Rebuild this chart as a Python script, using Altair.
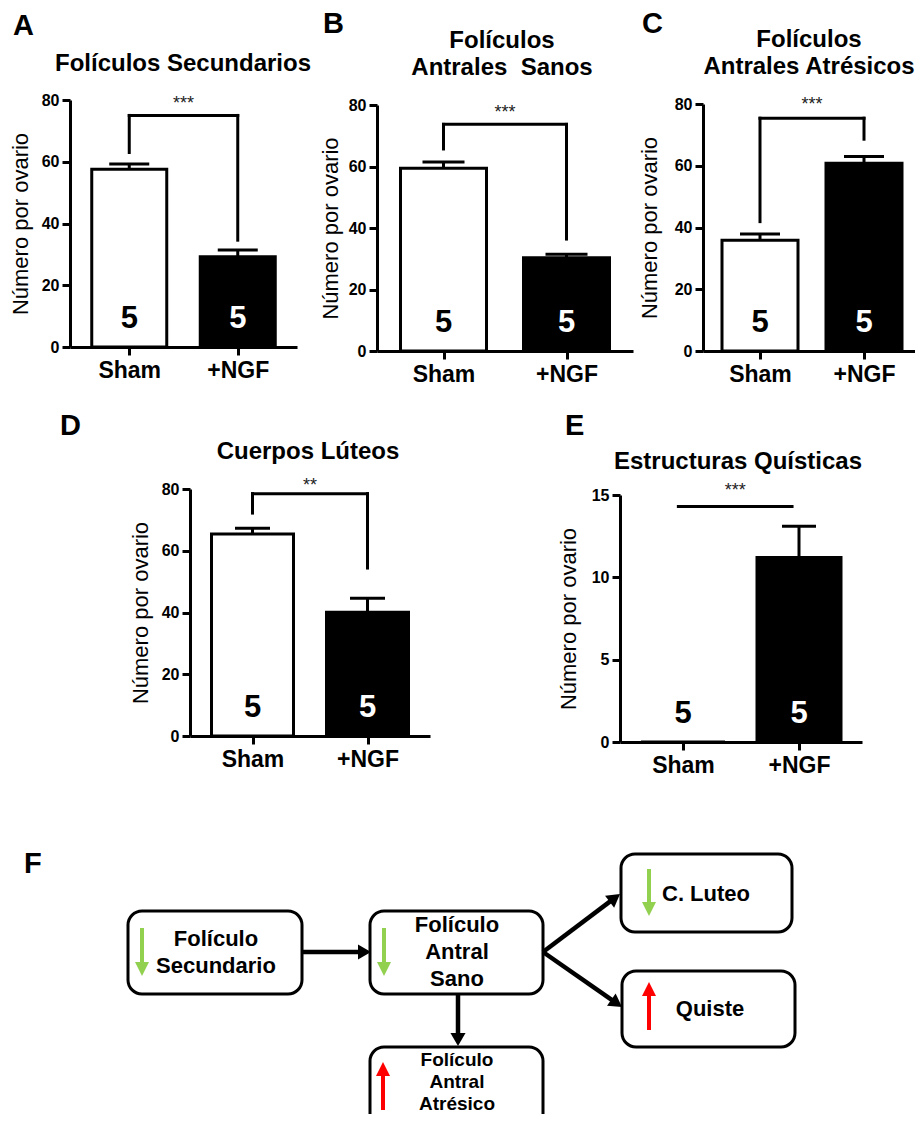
import math
import altair as alt
import pandas as pd

FONT = "Liberation Sans"
ORIGIN = 8            # page offset of the drawing area (body margin)
CANVAS_W, CANVAS_H = 907, 1106

# ---------------- data ----------------
groups = ["Sham", "+NGF"]
gpos = [0, 1]
n_per_group = ["5", "5"]

panel_letters = ["A", "B", "C", "D", "E"]
panel_titles = [
    ["Folículos Secundarios"],
    ["Folículos", "Antrales\u00a0 Sanos"],
    ["Folículos", "Antrales Atrésicos"],
    ["Cuerpos Lúteos"],
    ["Estructuras Quísticas"],
]
means = [[57.6, 29.2], [59.4, 30.3], [35.9, 60.8], [65.4, 40.1], [0.0, 11.2]]
uppers = [[59.3, 31.4], [61.5, 31.5], [37.9, 63.0], [67.3, 44.6], [0.0, 13.1]]
y_max = [80, 80, 80, 80, 15]
y_step = [20, 20, 20, 20, 5]
# significance bracket: top, left leg bottom, right leg bottom
br_top = [75.0, 73.7, 75.4, 78.5, 14.3]
br_left = [63.0, 65.7, 41.9, 72.2, None]
br_right = [34.6, 36.4, 68.6, 54.4, None]
br_x = [[0, 1], [0, 1], [0, 1], [0, 1], [-0.04, 0.94]]
stars = ["***", "***", "***", "**", "***"]
y_title = "Número por ovario"

# diagram (F)
box_x1 = [128, 370, 621, 622, 370]
box_x2 = [302, 543, 792, 795, 543]
box_y1 = [911, 911, 854, 971, 1047]
box_y2 = [994, 994, 932, 1047, 1140]
box_lines = ["Folículo", "Secundario", "Folículo", "Antral", "Sano", "C. Luteo", "Quiste",
             "Folículo", "Antral", "Atrésico"]
box_line_x = [216, 216, 457, 457, 457, 706, 710, 457, 457, 457]
box_line_y = [946, 973, 932, 959, 986, 901, 1016, 1066, 1088, 1110]
box_line_size = [22, 22, 22, 22, 22, 22, 22, 19, 19, 19]
flow_from = [(302, 952), (458, 994), (543, 952), (543, 952)]
flow_to = [(371, 952), (458, 1046), (620, 894), (622, 1007)]
trend_from = [(142, 928), (384, 928), (649, 869), (649, 1030), (383, 1110)]
trend_to = [(142, 976), (384, 976), (649, 916), (649, 982), (383, 1062)]
trend_col = ["#92D050", "#92D050", "#92D050", "#FF0000", "#FF0000"]


def px(v):
    return v - ORIGIN


def bar_panel(i, xl, xr, y0, ytop, barw, cap, tpad, title_x, title_y, letter_xy, star_dy):
    df = pd.DataFrame({"pos": gpos, "grp": groups, "mean": means[i], "upper": uppers[i],
                       "n": n_per_group, "zero": [0, 0]})
    xscale = alt.Scale(domain=[-0.5, 1.5], range=[px(xl), px(xr)], nice=False, zero=False)
    yscale = alt.Scale(domain=[0, y_max[i]], range=[px(y0), px(ytop)], nice=False, zero=True)
    label_expr = f"datum.value == 0 ? '{groups[0]}' : '{groups[1]}'"
    xaxis = alt.Axis(orient="bottom", values=gpos, labelExpr=label_expr, title=None, grid=False,
                     domainColor="black", domainWidth=3, tickColor="black", tickWidth=3,
                     tickSize=8, labelFont=FONT, labelFontSize=23, labelFontWeight="bold",
                     labelColor="black", labelPadding=4, offset=px(y0) - CANVAS_H,
                     labelFlush=False)
    yaxis = alt.Axis(orient="left", values=list(range(0, y_max[i] + 1, y_step[i])),
                     title=y_title, grid=False, offset=-px(xl),
                     domainColor="black", domainWidth=3, tickColor="black", tickWidth=3,
                     tickSize=8, labelFont=FONT, labelFontSize=16, labelFontWeight="bold",
                     labelColor="black", labelPadding=3, titleFont=FONT, titleFontSize=22,
                     titleFontWeight="normal", titleColor="black", titlePadding=tpad,
                     labelFlush=False)
    X = alt.X("pos:Q", scale=xscale, axis=xaxis)
    base = alt.Chart(df)
    is_ngf = alt.datum.pos == 1
    bars = base.mark_bar(orient="vertical", width=barw, stroke="black", strokeWidth=3).encode(
        x=X, y=alt.Y("mean:Q", scale=yscale, axis=yaxis),
        fill=alt.when(is_ngf).then(alt.value("black")).otherwise(alt.value("white")))
    err = base.mark_rule(color="black", strokeWidth=3).encode(
        x=X, y=alt.Y("mean:Q", scale=yscale, axis=yaxis), y2="upper:Q"
    ).transform_filter("datum.upper > datum.mean")
    caps = base.mark_tick(orient="horizontal", size=cap, thickness=3, color="black", opacity=1).encode(
        x=X, y=alt.Y("upper:Q", scale=yscale, axis=yaxis)
    ).transform_filter("datum.upper > datum.mean")
    nlab = base.mark_text(font=FONT, fontSize=31, fontWeight="bold", dy=-19,
                          baseline="alphabetic").encode(
        x=X, y=alt.Y("zero:Q", scale=yscale, axis=yaxis), text="n:N",
        color=alt.when(is_ngf).then(alt.value("white")).otherwise(alt.value("black")))
    layers = [bars, err, caps, nlab]
    hdf = pd.DataFrame({"xa": [br_x[i][0]], "xb": [br_x[i][1]], "top": [br_top[i]],
                        "mid": [(br_x[i][0] + br_x[i][1]) / 2], "s": [stars[i]]})
    hline = alt.Chart(hdf).mark_rule(color="black", strokeWidth=3, strokeCap="square").encode(
        x=alt.X("xa:Q", scale=xscale, axis=xaxis), x2="xb:Q",
        y=alt.Y("top:Q", scale=yscale, axis=yaxis))
    layers.append(hline)
    if br_left[i] is not None:
        ldf = pd.DataFrame({"pos": gpos, "lo": [br_left[i], br_right[i]],
                            "hi": [br_top[i], br_top[i]]})
        legs = alt.Chart(ldf).mark_rule(color="black", strokeWidth=3, strokeCap="square").encode(
            x=X, y=alt.Y("lo:Q", scale=yscale, axis=yaxis), y2="hi:Q")
        layers.append(legs)
    star = alt.Chart(hdf).mark_text(font=FONT, fontSize=18, dy=star_dy, baseline="alphabetic",
                                    color="#222222").encode(
        x=alt.X("mid:Q", scale=xscale, axis=xaxis), y=alt.Y("top:Q", scale=yscale, axis=yaxis),
        text="s:N")
    layers.append(star)
    one = pd.DataFrame({"a": [0]})
    for line, ty in zip(panel_titles[i], title_y):
        layers.append(alt.Chart(one).mark_text(text=line, font=FONT, fontSize=24, fontWeight="bold",
                                               align="center", baseline="alphabetic",
                                               color="black").encode(
            x=alt.value(px(title_x)), y=alt.value(px(ty))))
    layers.append(alt.Chart(one).mark_text(text=panel_letters[i], font=FONT, fontSize=29,
                                           fontWeight="bold", align="left", baseline="alphabetic",
                                           color="black").encode(
        x=alt.value(px(letter_xy[0])), y=alt.value(px(letter_xy[1]))))
    return alt.layer(*layers)


pA = bar_panel(0, 70, 297, 347, 100, 75, 40, 9, 183, [71], (13, 35), -6)
pB = bar_panel(1, 377, 633, 351, 105, 86, 42, 6, 502, [48, 75], (323, 33), -6)
pC = bar_panel(2, 703, 921, 351, 104, 76, 40, 13, 809, [47, 74], (642, 33), -8)
pD = bar_panel(3, 190, 430, 736, 489, 82, 35, 9, 308, [459], (60, 435), -3)
pE = bar_panel(4, 620, 862, 742, 495, 84, 34, 11, 738, [469], (565, 435), -11)

# ---------------- diagram ----------------
dxs = alt.Scale(domain=[ORIGIN, ORIGIN + CANVAS_W], range=[0, CANVAS_W], nice=False, zero=False)
dys = alt.Scale(domain=[ORIGIN, ORIGIN + CANVAS_H], range=[0, CANVAS_H], nice=False, zero=False)

boxes = pd.DataFrame({"x1": box_x1, "x2": box_x2, "y1": box_y1, "y2": box_y2})
rects = alt.Chart(boxes).mark_rect(fill="white", stroke="black", strokeWidth=3, cornerRadius=14,
                                   clip=True).encode(
    x=alt.X("x1:Q", scale=dxs, axis=None), x2="x2:Q",
    y=alt.Y("y1:Q", scale=dys, axis=None), y2="y2:Q")


def arrow_frame(starts, ends, cols, back):
    rows = []
    for (x0, y0), (x1, y1), c in zip(starts, ends, cols):
        L = math.hypot(x1 - x0, y1 - y0)
        ux, uy = (x1 - x0) / L, (y1 - y0) / L
        ang = math.degrees(math.atan2(y1 - y0, x1 - x0)) % 360
        rows.append({"x0": x0, "y0": y0, "xs": x1 - back * ux, "ys": y1 - back * uy,
                     "xt": x1, "yt": y1, "ang": ang, "col": c})
    return pd.DataFrame(rows)


def arrows(df, width, head_size, head_path):
    shafts = alt.Chart(df).mark_rule(strokeWidth=width).encode(
        x=alt.X("x0:Q", scale=dxs, axis=None), x2="xs:Q",
        y=alt.Y("y0:Q", scale=dys, axis=None), y2="ys:Q",
        color=alt.Color("col:N", scale=None))
    heads = alt.Chart(df).mark_point(shape=head_path, filled=True, opacity=1, strokeWidth=0,
                                     size=head_size).encode(
        x=alt.X("xt:Q", scale=dxs, axis=None), y=alt.Y("yt:Q", scale=dys, axis=None),
        angle=alt.Angle("ang:Q", scale=None), fill=alt.Fill("col:N", scale=None))
    return [shafts, heads]


flow_df = arrow_frame(flow_from, flow_to, ["black"] * len(flow_from), 9)
trend_df = arrow_frame(trend_from, trend_to, trend_col, 9)
flow_layers = arrows(flow_df, 4.5, 676, "M0,0L-1,-0.58L-1,0.58Z")
trend_layers = arrows(trend_df, 4, 784, "M0,0L-1,-0.5L-1,0.5Z")

tdf = pd.DataFrame({"t": box_lines, "x": box_line_x, "y": box_line_y, "fs": box_line_size})
texts = alt.Chart(tdf).mark_text(font=FONT, fontWeight="bold", align="center",
                                 baseline="alphabetic", color="black", clip=True).encode(
    x=alt.X("x:Q", scale=dxs, axis=None), y=alt.Y("y:Q", scale=dys, axis=None), text="t:N",
    size=alt.Size("fs:Q", scale=None))
fdf = pd.DataFrame({"t": ["F"], "x": [24], "y": [873]})
flabel = alt.Chart(fdf).mark_text(font=FONT, fontSize=29, fontWeight="bold", align="left",
                                  baseline="alphabetic", color="black").encode(
    x=alt.X("x:Q", scale=dxs, axis=None), y=alt.Y("y:Q", scale=dys, axis=None), text="t:N")

diagram = alt.layer(rects, *flow_layers, *trend_layers, texts, flabel)

chart = alt.layer(pA, pB, pC, pD, pE, diagram).resolve_scale(
    x="independent", y="independent"
).resolve_axis(x="independent", y="independent").properties(
    width=CANVAS_W, height=CANVAS_H, padding=0, background="white",
    autosize=alt.AutoSizeParams(type="none")
).configure_view(stroke="transparent", strokeWidth=0)

chart.save("out.html", embed_options={"renderer": "svg", "actions": False})
